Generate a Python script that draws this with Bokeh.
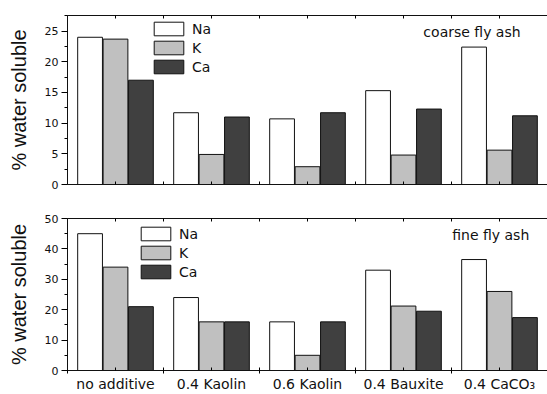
from bokeh.plotting import figure
from bokeh.models import Range1d, FixedTicker, LinearAxis, Legend, LegendItem, Label
from bokeh.layouts import column
from bokeh.embed import file_html
from bokeh.resources import INLINE

# Water-soluble fraction of each element per additive, coarse and fine fly ash
categories = ["no additive", "0.4 Kaolin", "0.6 Kaolin", "0.4 Bauxite", "0.4 CaCO\u2083"]
elements = ["Na", "K", "Ca"]
coarse_na = [24.0, 11.7, 10.7, 15.3, 22.4]
coarse_k = [23.7, 4.9, 2.9, 4.8, 5.6]
coarse_ca = [17.0, 11.0, 11.7, 12.3, 11.2]
fine_na = [45.0, 24.0, 16.0, 33.0, 36.5]
fine_k = [34.0, 16.0, 5.0, 21.2, 26.0]
fine_ca = [21.0, 16.0, 16.0, 19.5, 17.4]
coarse_yticks = [0, 5, 10, 15, 20, 25]
fine_yticks = [0, 10, 20, 30, 40, 50]

fills = ["#ffffff", "#c0c0c0", "#404040"]
offsets = [-0.265, 0.0, 0.265]
BAR_W = 0.258
TICK_FONT = "DejaVu Sans"

centers = [i + 0.5 for i in range(len(categories))]
bounds = [float(i) for i in range(len(categories) + 1)]


def tick_only_axis(axis):
    # a frame line carrying short inward ticks and no labels
    axis.ticker = FixedTicker(ticks=[], minor_ticks=sorted(bounds + centers))
    axis.minor_tick_in = 3
    axis.minor_tick_out = 0
    axis.major_tick_in = 0
    axis.major_tick_out = 0
    axis.major_label_standoff = 0
    axis.axis_line_color = "#111111"


def make_panel(series, ymax, yticks, yminor, height, b_top, b_bottom,
               show_xlabels, tag, tag_x, tag_y, leg_x, leg_y):
    p = figure(width=547, height=height,
               x_range=Range1d(0, len(categories)), y_range=Range1d(0, ymax),
               output_backend="svg", toolbar_location=None,
               min_border_left=67, min_border_right=0,
               min_border_top=b_top, min_border_bottom=b_bottom)
    p.grid.visible = False
    p.outline_line_color = None
    p.background_fill_color = "white"

    renderers = []
    for vals, off, fill in zip(series, offsets, fills):
        r = p.vbar(x=[c + off for c in centers], top=vals, width=BAR_W,
                   fill_color=fill, line_color="#111111", line_width=1)
        renderers.append(r)

    # y axis
    ya = p.yaxis[0]
    ya.ticker = FixedTicker(ticks=yticks, minor_ticks=yminor)
    ya.major_tick_out = 6
    ya.major_tick_in = 0
    ya.minor_tick_out = 3
    ya.minor_tick_in = 0
    ya.major_label_standoff = 3
    ya.major_label_text_font = TICK_FONT
    ya.major_label_text_font_size = "11px"
    ya.major_label_text_color = "#111111"
    ya.axis_label = "% water soluble"
    ya.axis_label_text_font = "Liberation Sans"
    ya.axis_label_text_font_size = "20px"
    ya.axis_label_text_font_style = "normal"
    ya.axis_label_text_color = "#111111"
    ya.axis_label_standoff = 12
    ya.axis_line_color = "#111111"

    # bottom x axis
    xa = p.xaxis[0]
    if show_xlabels:
        xa.axis_line_color = "#111111"
        xa.ticker = FixedTicker(ticks=centers, minor_ticks=bounds)
        xa.major_label_overrides = {c: lab for c, lab in zip(centers, categories)}
        xa.major_tick_in = 3
        xa.major_tick_out = 0
        xa.minor_tick_in = 3
        xa.minor_tick_out = 3
        xa.major_label_standoff = 2
        xa.major_label_text_font = TICK_FONT
        xa.major_label_text_font_size = "14px"
        xa.major_label_text_color = "#111111"
    else:
        tick_only_axis(xa)

    # top frame line with inward ticks
    top = LinearAxis()
    tick_only_axis(top)
    p.add_layout(top, "above")

    legend = Legend(items=[LegendItem(label=e, renderers=[r])
                           for e, r in zip(elements, renderers)],
                    location=(leg_x, leg_y), orientation="vertical",
                    glyph_width=37, glyph_height=17, label_height=17,
                    label_standoff=5, spacing=2, padding=0, margin=0,
                    border_line_color=None, background_fill_alpha=0,
                    label_text_font=TICK_FONT, label_text_font_size="14px",
                    label_text_color="#111111")
    p.add_layout(legend, "center")

    p.add_layout(Label(x=tag_x, y=tag_y, text=tag, text_align="right",
                       text_baseline="middle", text_font=TICK_FONT,
                       text_font_size="14px", text_color="#111111"))
    return p


p1 = make_panel([coarse_na, coarse_k, coarse_ca], 27.55, coarse_yticks,
                [2.5, 7.5, 12.5, 17.5, 22.5, 27.5], 200, 15, 16,
                False, "coarse fly ash", 4.72, 24.8, 83, 109)
p2 = make_panel([fine_na, fine_k, fine_ca], 50, fine_yticks,
                [5, 15, 25, 35, 45], 194, 18, 23,
                True, "fine fly ash", 4.81, 44.5, 70, 90)

layout = column(p1, p2, spacing=0)
open("out.html", "w").write(file_html(layout, INLINE))
